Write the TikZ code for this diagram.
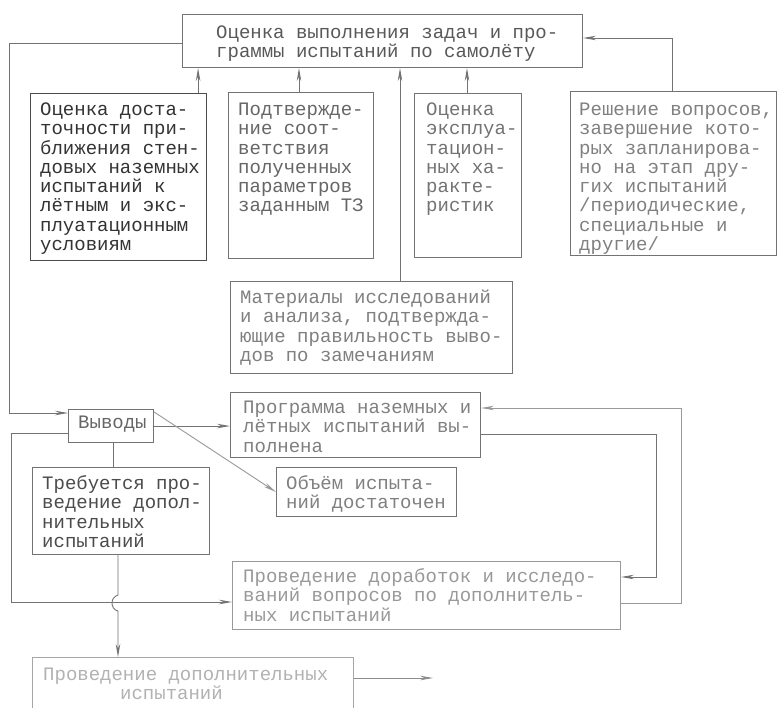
\documentclass[tikz,border=0pt]{standalone}
\usepackage{fontspec}
\setmonofont{Liberation Mono}
\usetikzlibrary{arrows.meta,calc}
\begin{document}
\begin{tikzpicture}[x=1pt,y=-1pt,
  box/.style={draw=#1, line width=1.1pt, rectangle, anchor=north west, inner sep=0pt},
  box/.default=black!55,
  lbl/.style={anchor=base west, inner sep=0pt, align=left,
    font={\fontsize{19}{19.3}\selectfont\ttfamily}, text=#1},
  lbl/.default=black!65,
  conn/.style={draw=black!55, line width=0.9pt},
  arr/.style={conn, -{Stealth[length=13pt,width=4.5pt]}}]
\fill[white] (0,0) rectangle (777,708);
\useasboundingbox (0,0) rectangle (777,708);
% boxes
\node[box, minimum width=400pt, minimum height=53pt] (top) at (182,14) {};
\node[box=black!70, minimum width=176pt, minimum height=167pt] (b1) at (30,93) {};
\node[box, minimum width=145pt, minimum height=166pt] (b2) at (228,92) {};
\node[box, minimum width=107pt, minimum height=164pt] (b3) at (414,93) {};
\node[box, minimum width=206pt, minimum height=164pt] (b4) at (570,91) {};
\node[box, minimum width=282pt, minimum height=92pt] (mat) at (230,281) {};
\node[box, minimum width=85pt, minimum height=33pt] (vyv) at (68,409) {};
\node[box, minimum width=250pt, minimum height=65pt] (prog) at (230,392) {};
\node[box, minimum width=180pt, minimum height=49pt] (obem) at (276,467) {};
\node[box, minimum width=177pt, minimum height=87pt] (treb) at (32,467) {};
\node[box=black!40, minimum width=388pt, minimum height=68pt] (prov) at (232,561) {};
\node[box=black!35, minimum width=321pt, minimum height=60pt] (bot) at (32,657) {};
% texts (anchor = baseline of the last line)
\node[lbl] (ttop) at ($(top.north west)+(34,43.8)$) {Оценка выполнения задач и про-\\граммы испытаний по самолёту};
\node[lbl=black!80] (tb1) at ($(b1.north west)+(10,157.6)$) {Оценка доста-\\точности при-\\ближения стен-\\довых наземных\\испытаний к\\лётным и экс-\\плуатационным\\условиям};
\node[lbl=black!60] (tb2) at ($(b2.north west)+(10,120)$) {Подтвержде-\\ние соот-\\ветствия\\полученных\\параметров\\заданным ТЗ};
\node[lbl=black!55] (tb3) at ($(b3.north west)+(12,119)$) {Оценка\\эксплуа-\\тацион-\\ных ха-\\ракте-\\ристик};
\node[lbl=black!50] (tb4) at ($(b4.north west)+(9,159.6)$) {Решение вопросов,\\завершение кото-\\рых запланирова-\\но на этап дру-\\гих испытаний\\/периодические,\\специальные и\\другие/};
\node[lbl=black!50] (tmat) at ($(mat.north west)+(10,80.4)$) {Материалы исследований\\и анализа, подтвержда-\\ющие правильность выво-\\дов по замечаниям};
\node[lbl=black!60] (tvyv) at ($(vyv.north west)+(10,19.5)$) {Выводы};
\node[lbl=black!50] (tprog) at ($(prog.north west)+(13,60.1)$) {Программа наземных и\\лётных испытаний вы-\\полнена};
\node[lbl=black!50] (tobem) at ($(obem.north west)+(10,41.8)$) {Объём испыта-\\ний достаточен};
\node[lbl=black!70] (ttreb) at ($(treb.north west)+(10,80.4)$) {Требуется про-\\ведение допол-\\нительных\\испытаний};
\node[lbl=black!40] (tprov) at ($(prov.north west)+(11,60.1)$) {Проведение доработок и исследо-\\ваний вопросов по дополнитель-\\ных испытаний};
\node[lbl=black!30] (tbot) at ($(bot.north west)+(11,42.8)$) {Проведение дополнительных\\\hspace*{77pt}испытаний};
% connector points
\coordinate (a1) at ($(b1.north east)+(-9,0)$);
\coordinate (a2) at ($(b2.north west)+(71,0)$);
\coordinate (a3) at ($(mat.north west)+(170,0)$);
\coordinate (a4) at ($(b3.north west)+(53,0)$);
\coordinate (a5) at ($(b4.north west)+(102,0)$);
\coordinate (c9) at ($(vyv.south west)+(45,0)$);
\coordinate (c11) at ($(treb.south west)+(86,0)$);
% connectors
\draw[arr] (a1) -- (a1 |- top.south);
\draw[arr] (a2) -- (a2 |- top.south);
\draw[arr] (a3) -- (a3 |- top.south);
\draw[arr] (a4) -- (a4 |- top.south);
\draw[arr] (a5) |- ($(top.north east)+(0,24)$);
\draw[arr] ($(top.north west)+(0,29)$) -- ++(-173,0) |- ($(vyv.north west)+(0,4)$);
\draw[arr] (vyv.east) -- (vyv.east -| prog.west);
\draw[arr, draw=black!40] ($(vyv.north east)+(0,3)$) -- (obem.west);
\draw[conn] (c9) -- (c9 |- treb.north);
\draw[arr] ($(vyv.north west)+(0,24)$) -- ++(-57,0) |- ($(prov.north west)+(0,41)$);
\draw[arr] (c11) -- ++(0,40) .. controls +(-8,2) and +(-8,-2) .. ++(0,16) -- (c11 |- bot.north);
\draw[arr] ($(prog.north east)+(0,42)$) -- ++(175,0) |- ($(prov.north east)+(0,16)$);
\draw[arr, draw=black!40] ($(prov.north east)+(0,42)$) -- ++(60,0) |- ($(prog.north east)+(0,16)$);
\draw[arr, draw=black!45] ($(bot.north east)+(0,21)$) -- ++(79,0) coordinate (fe);
\end{tikzpicture}
\end{document}
